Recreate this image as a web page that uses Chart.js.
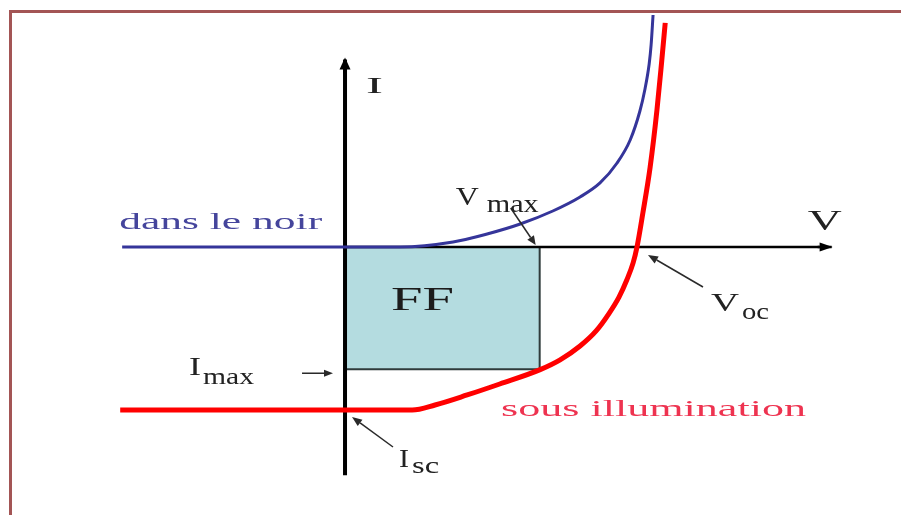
<!DOCTYPE html>
<html>
<head>
<meta charset="utf-8">
<script src="https://cdn.jsdelivr.net/npm/chart.js@4.4.1/dist/chart.umd.min.js"></script>
<style>
  html, body { margin: 0; padding: 0; background: #fff; }
  #wrap { position: relative; width: 901px; height: 515px; overflow: hidden; }
  #frame {
    position: absolute; left: 9px; top: 10px; width: 900px; height: 520px;
    border-top: 3px solid #a35555; border-left: 3px solid #a35555;
  }
  #wrap canvas { position: absolute; left: 0; top: 0; }
</style>
</head>
<body>
<div id="wrap">
  <div id="frame"></div>
  <canvas id="ivChart" width="901" height="515"></canvas>
</div>
<script>
// I(V) of a solar cell, V in volts, I in mA
const darkV = [-0.458, 0, 0.113, 0.222, 0.292, 0.36, 0.427, 0.483, 0.524, 0.559, 0.586, 0.606, 0.616, 0.625, 0.629, 0.633];
const darkI = [0, 0, 0, 1.23, 3.19, 5.64, 8.83, 12.27, 15.71, 20.61, 26.26, 33.37, 38.53, 44.91, 49.57, 56.93];

const lightV = [-0.462, 0, 0.138, 0.185, 0.251, 0.318, 0.401, 0.442, 0.483, 0.516, 0.542, 0.563, 0.579, 0.592, 0.6, 0.612, 0.627, 0.641, 0.651, 0.658];
const lightI = [-40, -40, -40, -38.77, -36.32, -33.62, -30.1, -27.7, -24.3, -20.6, -16.4, -12.3, -8.1, -3.9, 0, 8.3, 19.6, 33.6, 45.9, 55.0];

const vmax = 0.4;
const imax = -30;
const voc = 0.6;
const isc = -40;

const axisV = [0, 1.0];
const axisI = [-56, 46];

function pts(xs, ys) {
  return xs.map((x, i) => ({ x, y: ys[i] }));
}

function drawArrow(ctx, x1, y1, x2, y2, len, half, width, color) {
  const a = Math.atan2(y2 - y1, x2 - x1);
  const bx = x2 - len * Math.cos(a);
  const by = y2 - len * Math.sin(a);
  ctx.save();
  ctx.strokeStyle = color;
  ctx.fillStyle = color;
  ctx.lineWidth = width;
  ctx.beginPath();
  ctx.moveTo(x1, y1);
  ctx.lineTo(bx, by);
  ctx.stroke();
  ctx.beginPath();
  ctx.moveTo(x2, y2);
  ctx.lineTo(bx + half * Math.sin(a), by - half * Math.cos(a));
  ctx.lineTo(bx - half * Math.sin(a), by + half * Math.cos(a));
  ctx.closePath();
  ctx.fill();
  ctx.restore();
}

function drawLabel(ctx, text, x, y, size, width, color) {
  ctx.save();
  ctx.font = size + 'px "Liberation Serif", "DejaVu Serif", serif';
  ctx.fillStyle = color;
  ctx.textBaseline = 'alphabetic';
  const w = ctx.measureText(text).width;
  ctx.translate(x, y);
  ctx.scale(width / w, 1);
  ctx.fillText(text, 0, 0);
  ctx.restore();
}

const annotations = {
  id: 'annotations',
  afterDatasetsDraw(chart) {
    const ctx = chart.ctx;
    const sx = chart.scales.x;
    const sy = chart.scales.y;
    const at = (v, i) => [sx.getPixelForValue(v), sy.getPixelForValue(i)];

    const [ox, oy] = at(0, 0);
    const [tx, ty] = at(0, axisI[1]);
    const [ex, ey] = at(axisV[1], 0);
    const [px, py] = at(vmax, 0);
    const [qx, qy] = at(0, imax);
    const [sX, sY] = at(0, isc);
    const [cx, cy] = at(voc, 0);
    const [dx, dy] = at(darkV[0], 0);

    // axis heads
    drawArrow(ctx, tx, ty + 14, tx, ty - 2, 12, 5.5, 4, '#000');
    drawArrow(ctx, ex - 14, ey, ex + 1, ey, 13, 4.5, 2.5, '#000');

    // pointers
    const ink = '#2a2a2a';
    drawArrow(ctx, px - 29, py - 39, px - 4, py - 2, 9, 4, 1.5, ink);
    drawArrow(ctx, qx - 43, qy + 4, qx - 12, qy + 4, 9, 3.5, 1.5, ink);
    drawArrow(ctx, sX + 48, sY + 37, sX + 7, sY + 7, 10, 4, 1.5, ink);
    drawArrow(ctx, cx + 66, cy + 40, cx + 11, cy + 8, 10, 4, 1.5, ink);

    // texts
    drawLabel(ctx, 'I', tx + 21, ty + 33, 23, 17, '#222');
    drawLabel(ctx, 'V', ex - 24, ey - 17, 29, 34, '#222');
    drawLabel(ctx, 'dans le noir', dx - 3, dy - 18, 24, 203, '#45459c');
    drawLabel(ctx, 'V', px - 84, py - 42, 25, 23, '#222');
    drawLabel(ctx, 'max', px - 53, py - 35, 25, 52, '#222');
    drawLabel(ctx, 'FF', ox + 46, oy + 63, 33, 63, '#1c1c1c');
    drawLabel(ctx, 'I', qx - 156, qy + 6, 25, 12, '#222');
    drawLabel(ctx, 'max', qx - 142, qy + 15, 24, 51, '#222');
    drawLabel(ctx, 'V', cx + 74, cy + 64, 26, 28, '#222');
    drawLabel(ctx, 'oc', cx + 105, cy + 72, 24, 27, '#222');
    drawLabel(ctx, 'I', sX + 54, sY + 57, 25, 10, '#222');
    drawLabel(ctx, 'sc', sX + 67, sY + 63, 23, 27, '#222');
    drawLabel(ctx, 'sous illumination', sX + 156, sY + 6, 24, 305, '#ee3350');
  },
};

new Chart(document.getElementById('ivChart'), {
  type: 'scatter',
  data: {
    datasets: [
      {
        label: 'sous illumination',
        data: pts(lightV, lightI),
        showLine: true,
        borderColor: '#ff0000',
        borderWidth: 5,
        pointRadius: 0,
        cubicInterpolationMode: 'monotone',
        order: 0,
      },
      {
        label: 'dans le noir',
        data: pts(darkV, darkI),
        showLine: true,
        borderColor: '#35359a',
        borderWidth: 3,
        pointRadius: 0,
        cubicInterpolationMode: 'monotone',
        order: 1,
      },
      {
        label: 'I axis',
        data: [{ x: 0, y: axisI[0] }, { x: 0, y: axisI[1] }],
        showLine: true,
        borderColor: '#000',
        borderWidth: 4,
        pointRadius: 0,
        order: 2,
      },
      {
        label: 'V axis',
        data: [{ x: axisV[0], y: 0 }, { x: axisV[1], y: 0 }],
        showLine: true,
        borderColor: '#000',
        borderWidth: 2.5,
        pointRadius: 0,
        order: 2,
      },
      {
        label: 'FF',
        data: [{ x: 0, y: imax }, { x: vmax, y: imax }, { x: vmax, y: 0 }],
        showLine: true,
        fill: 'origin',
        backgroundColor: '#b4dce0',
        borderColor: '#2f3b3b',
        borderWidth: 2,
        pointRadius: 0,
        order: 3,
      },
    ],
  },
  options: {
    responsive: false,
    animation: false,
    events: [],
    layout: { padding: 0 },
    plugins: { legend: { display: false }, tooltip: { enabled: false } },
    scales: {
      x: { type: 'linear', min: -0.709, max: 1.1425, display: false },
      y: { type: 'linear', min: -65.77, max: 60.61, display: false },
    },
  },
  plugins: [annotations],
});
</script>
</body>
</html>
